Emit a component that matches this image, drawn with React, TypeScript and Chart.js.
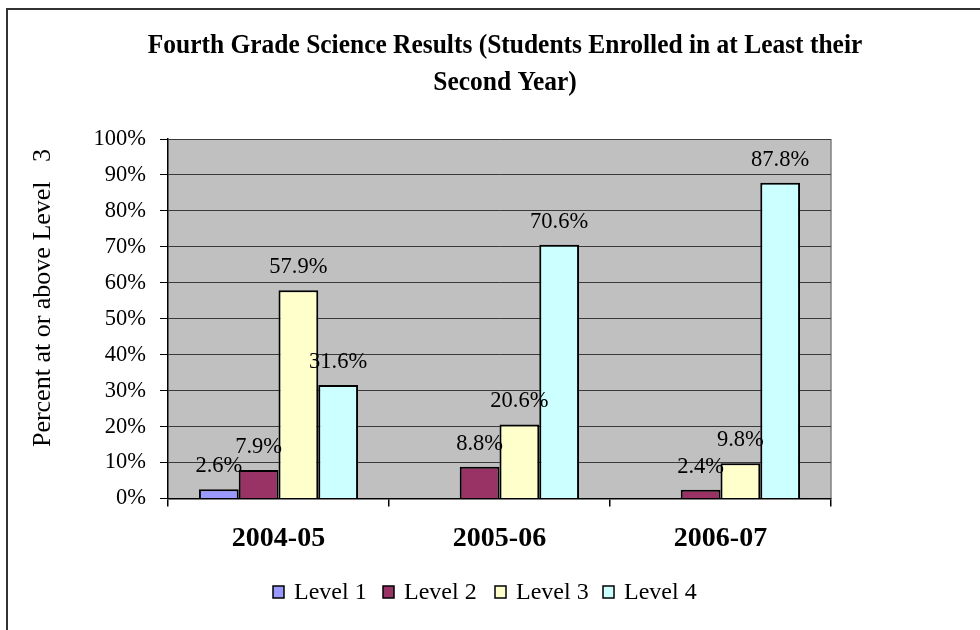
import React, { useEffect, useRef } from "react";
import { Chart, registerables } from "chart.js";

Chart.register(...registerables);

const titleLines = [
  "Fourth Grade Science Results (Students Enrolled in at Least their",
  "Second Year)",
];
const yAxisTitle = "Percent at or above Level   3";
const categories = ["2004-05", "2005-06", "2006-07"];
const seriesNames = ["Level 1", "Level 2", "Level 3", "Level 4"];
const level1 = [2.6, null, null];
const level2 = [7.9, 8.8, 2.4];
const level3 = [57.9, 20.6, 9.8];
const level4 = [31.6, 70.6, 87.8];
const seriesColors = ["#9999FF", "#993366", "#FFFFCC", "#CCFFFF"];
const yTicks = [0, 10, 20, 30, 40, 50, 60, 70, 80, 90, 100];

const SERIF = "'Liberation Serif', 'Times New Roman', serif";

const decorPlugin = {
  id: "decor",
  beforeDraw(chart: any) {
    const { ctx, chartArea } = chart;
    ctx.save();
    ctx.fillStyle = "#ffffff";
    ctx.fillRect(0, 0, chart.width, chart.height);
    // outer frame (top and left edges visible)
    ctx.fillStyle = "#333333";
    ctx.fillRect(6, 8, chart.width, 2);
    ctx.fillRect(6, 8, 2, chart.height);
    // plot area
    ctx.fillStyle = "#C0C0C0";
    ctx.fillRect(chartArea.left, chartArea.top, chartArea.right - chartArea.left, chartArea.bottom - chartArea.top);
    ctx.strokeStyle = "#808080";
    ctx.lineWidth = 1.5;
    ctx.beginPath();
    ctx.moveTo(chartArea.right, chartArea.top);
    ctx.lineTo(chartArea.right, chartArea.bottom);
    ctx.stroke();
    ctx.restore();
  },
  afterDatasetsDraw(chart: any) {
    const { ctx } = chart;
    ctx.save();
    ctx.font = `22.5px ${SERIF}`;
    ctx.fillStyle = "#000";
    ctx.textAlign = "center";
    ctx.textBaseline = "alphabetic";
    chart.data.datasets.forEach((ds: any, di: number) => {
      const meta = chart.getDatasetMeta(di);
      meta.data.forEach((bar: any, i: number) => {
        const v = ds.data[i];
        if (v === null || v === undefined) return;
        ctx.fillText(v.toFixed(1) + "%", bar.x, bar.y - 17);
      });
    });
    ctx.restore();
  },
  afterDraw(chart: any) {
    const { ctx } = chart;
    ctx.save();
    ctx.fillStyle = "#000";
    // title
    ctx.font = `bold 27px ${SERIF}`;
    ctx.textAlign = "center";
    ctx.textBaseline = "alphabetic";
    const sx = 0.943;
    titleLines.forEach((line, i) => {
      ctx.save();
      ctx.translate(505, 53 + i * 37);
      ctx.scale(sx, 1);
      ctx.fillText(line, 0, 0);
      ctx.restore();
    });
    // y axis title
    ctx.save();
    ctx.translate(50, 298);
    ctx.rotate(-Math.PI / 2);
    ctx.font = `26px ${SERIF}`;
    ctx.textAlign = "center";
    ctx.fillText(yAxisTitle, 0, 0);
    ctx.restore();
    // legend
    ctx.font = `24px ${SERIF}`;
    ctx.textAlign = "left";
    const boxX = [273, 383, 495, 603];
    seriesNames.forEach((name, i) => {
      ctx.fillStyle = seriesColors[i];
      ctx.fillRect(boxX[i], 586, 11, 12);
      ctx.strokeStyle = "#000";
      ctx.lineWidth = 1.5;
      ctx.strokeRect(boxX[i], 586, 11, 12);
      ctx.fillStyle = "#000";
      ctx.fillText(name, boxX[i] + 21, 599);
    });
    ctx.restore();
  },
};

export default function App() {
  const ref = useRef<HTMLCanvasElement>(null);
  useEffect(() => {
    if (!ref.current) return;
    const seriesData = [level1, level2, level3, level4];
    const chart = new Chart(ref.current, {
      type: "bar",
      data: {
        labels: categories,
        datasets: seriesNames.map((name, i) => ({
          label: name,
          data: seriesData[i],
          backgroundColor: seriesColors[i],
          borderColor: "#000000",
          borderWidth: 2,
          categoryPercentage: 0.72,
          barPercentage: 1,
        })),
      },
      options: {
        animation: false,
        responsive: false,
        devicePixelRatio: 1,
        layout: { padding: { top: 139, right: 149, bottom: 71.5, left: 0 } },
        plugins: {
          legend: { display: false },
          title: { display: false },
          tooltip: { enabled: false },
        },
        scales: {
          x: {
            afterFit: (s: any) => {
              s.height = 60;
            },
            grid: {
              drawOnChartArea: false,
              color: "#000",
              tickLength: 8,
              lineWidth: 1.5,
            },
            border: { color: "#000", width: 1.5 },
            ticks: {
              color: "#000",
              padding: 15,
              font: { family: SERIF, size: 28, weight: "bold" },
            },
          },
          y: {
            min: 0,
            max: 100,
            afterFit: (s: any) => {
              s.width = 168;
            },
            afterBuildTicks: (s: any) => {
              s.ticks = yTicks.map((v) => ({ value: v }));
            },
            grid: {
              color: "#3a3a3a",
              lineWidth: 1,
              tickColor: "#000",
              tickLength: 8,
            },
            border: { color: "#000", width: 1.5 },
            ticks: {
              color: "#000",
              padding: 14,
              font: { family: SERIF, size: 22.5 },
              callback: (v: any) => v + "%",
            },
          },
        },
      },
      plugins: [decorPlugin],
    });
    return () => chart.destroy();
  }, []);
  return (
    <div style={{ position: "fixed", left: 0, top: 0, width: 980, height: 630 }}>
      <canvas ref={ref} width={980} height={630} style={{ display: "block" }} />
    </div>
  );
}
